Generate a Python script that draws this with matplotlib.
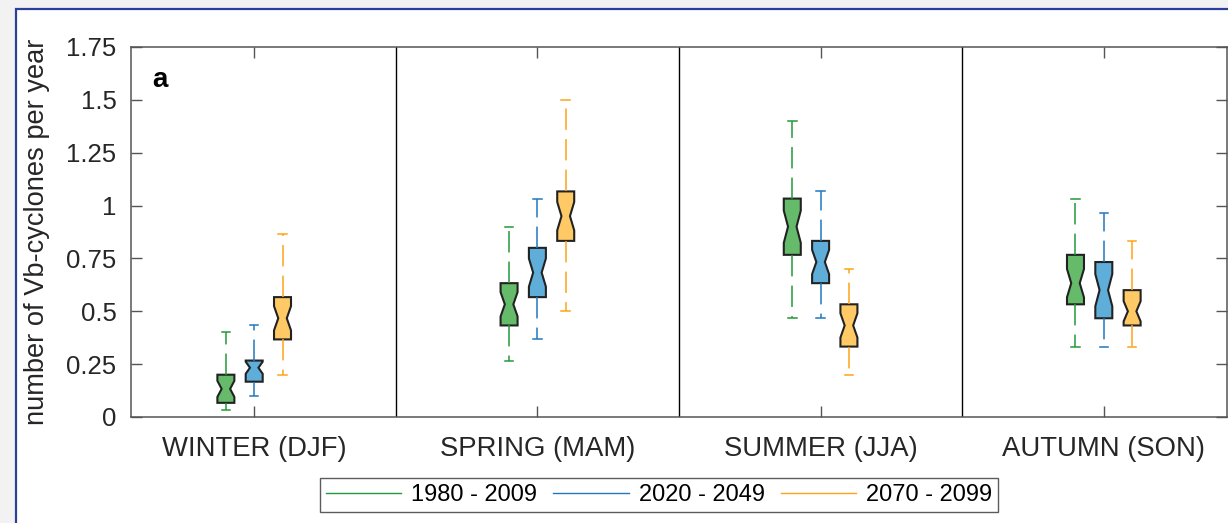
import numpy as np
import matplotlib
matplotlib.use('Agg')
import matplotlib.pyplot as plt
from matplotlib.patches import Rectangle
from matplotlib.lines import Line2D

plt.rcParams['font.family'] = ['Liberation Sans', 'DejaVu Sans']

seasons = ['WINTER (DJF)', 'SPRING (MAM)', 'SUMMER (JJA)', 'AUTUMN (SON)']
periods = ['1980 - 2009', '2020 - 2049', '2070 - 2099']
n_years = 30

# rows: lower whisker, q1, median, q3, upper whisker ; columns: seasons
stats_1980 = np.array([
    [0.033, 0.267, 0.467, 0.333],
    [0.067, 0.433, 0.767, 0.533],
    [0.133, 0.533, 0.900, 0.633],
    [0.200, 0.633, 1.033, 0.767],
    [0.400, 0.900, 1.400, 1.033],
])
stats_2020 = np.array([
    [0.100, 0.367, 0.467, 0.333],
    [0.167, 0.567, 0.633, 0.467],
    [0.233, 0.683, 0.733, 0.600],
    [0.267, 0.800, 0.833, 0.733],
    [0.433, 1.033, 1.067, 0.967],
])
stats_2070 = np.array([
    [0.200, 0.500, 0.200, 0.333],
    [0.367, 0.833, 0.333, 0.433],
    [0.467, 0.950, 0.433, 0.500],
    [0.567, 1.067, 0.533, 0.600],
    [0.867, 1.500, 0.700, 0.833],
])

line_cols = ['#22993a', '#1f78c0', '#ffa319']
face_cols = ['#66bb6a', '#5fadd9', '#ffc966']
offsets = [-0.1, 0.0, 0.1]

fig = plt.figure(figsize=(12.28, 5.23), dpi=100)
fig.patch.set_facecolor('#f2f2f2')
# white panel with blue frame (left/top visible)
fig.patches.append(Rectangle((16 / 1228, -0.1), 1.2, 1 - 9 / 523 + 0.1,
                             transform=fig.transFigure, facecolor='white',
                             edgecolor='#2e3f9a', linewidth=1.6, zorder=-1))

ax = fig.add_axes([131 / 1228, 1 - 417 / 523, 1096 / 1228, 370 / 523])
ax.set_facecolor('white')

x = np.arange(1, len(seasons) + 1)
for k, st in enumerate([stats_1980, stats_2020, stats_2070]):
    bstats = []
    for j in range(len(seasons)):
        lo, q1, med, q3, hi = st[:, j]
        notch = 1.57 * (q3 - q1) / np.sqrt(n_years)
        bstats.append(dict(whislo=lo, q1=q1, med=med, q3=q3, whishi=hi,
                           cilo=med - notch, cihi=med + notch, fliers=[]))
    ax.bxp(bstats, positions=x + offsets[k], widths=0.06, shownotches=True,
           showfliers=False, patch_artist=True, manage_ticks=False,
           boxprops=dict(facecolor=face_cols[k], edgecolor='#222222', linewidth=1.5),
           whiskerprops=dict(color=line_cols[k], linewidth=1.1, linestyle=(0, (14, 6))),
           capprops=dict(color=line_cols[k], linewidth=1.1),
           medianprops=dict(linewidth=0))

for xd in [1.5, 2.5, 3.5]:
    ax.axvline(xd, color='black', linewidth=1.0)

ax.set_xlim(0.565, 4.435)
ax.set_ylim(0, 1.75)
ax.set_xticks(x)
ax.set_xticklabels(seasons)
ax.set_yticks([0, 0.25, 0.5, 0.75, 1, 1.25, 1.5, 1.75])
ax.set_yticklabels(['0', '0.25', '0.5', '0.75', '1', '1.25', '1.5', '1.75'])
ax.tick_params(direction='in', top=True, right=True, length=8, width=1.0,
               color='#555555', labelcolor='#262626')
ax.tick_params(axis='y', pad=10.5, labelsize=18.5)
ax.tick_params(axis='x', pad=14, labelsize=19.8)
for s in ax.spines.values():
    s.set_color('#555555')
    s.set_linewidth(1.1)

ax.set_ylabel('number of Vb-cyclones per year', fontsize=19.6, color='#262626')
ax.yaxis.set_label_coords(-0.074, 0.5)

ax.text(0.026, 0.91, 'a', transform=ax.transAxes, fontsize=20,
        fontweight='bold', ha='center', va='center')

handles = [Line2D([], [], color=c, linewidth=1.0) for c in line_cols]
leg = fig.legend(handles, periods, loc='center', bbox_to_anchor=(0.5366, 0.0535),
                 ncol=3, fontsize=17, frameon=True, fancybox=False,
                 handlelength=3.2, handletextpad=0.42, columnspacing=0.68,
                 borderpad=0.25, edgecolor='#333333')
leg.get_frame().set_linewidth(1.0)

fig.savefig('out.png', dpi=100, facecolor=fig.get_facecolor())
